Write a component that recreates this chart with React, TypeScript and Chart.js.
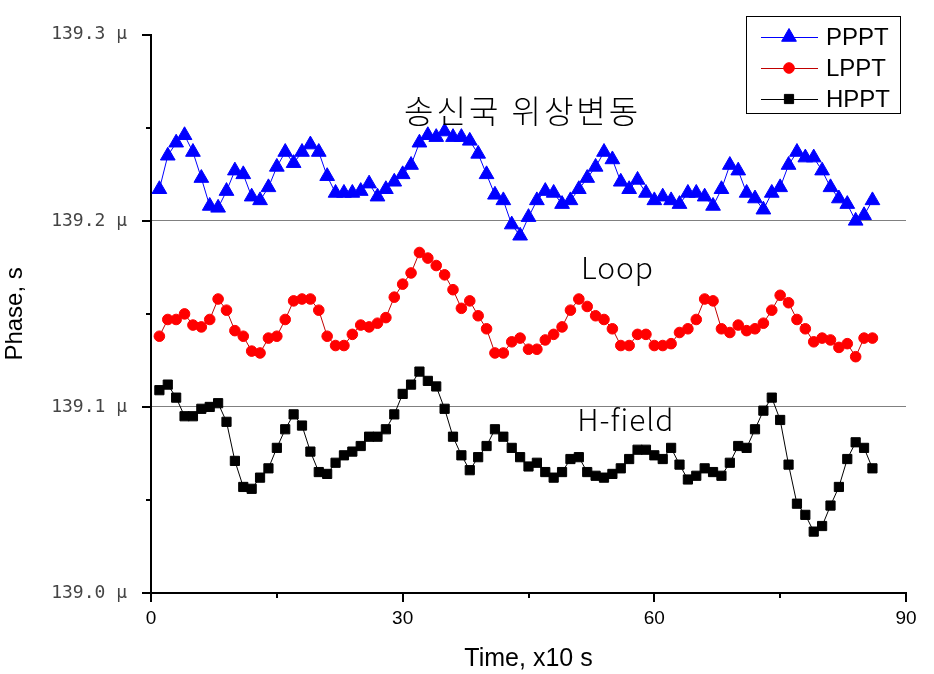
import React, { useEffect, useRef } from 'react';
import { Chart, registerables } from 'chart.js';
import { drawPoint } from 'chart.js/helpers';

Chart.register(...registerables);

const timeSteps = [
  1, 2, 3, 4, 5, 6, 7, 8, 9, 10, 11, 12, 13, 14, 15, 16, 17, 18, 19, 20,
  21, 22, 23, 24, 25, 26, 27, 28, 29, 30, 31, 32, 33, 34, 35, 36, 37, 38, 39, 40,
  41, 42, 43, 44, 45, 46, 47, 48, 49, 50, 51, 52, 53, 54, 55, 56, 57, 58, 59, 60,
  61, 62, 63, 64, 65, 66, 67, 68, 69, 70, 71, 72, 73, 74, 75, 76, 77, 78, 79, 80,
  81, 82, 83, 84, 85, 86,
];

const ppptValues = [
  139.217, 139.235, 139.242, 139.246, 139.237, 139.223, 139.208, 139.207, 139.216, 139.227,
  139.225, 139.213, 139.211, 139.218, 139.229, 139.237, 139.231, 139.237, 139.241, 139.237,
  139.224, 139.215, 139.215, 139.215, 139.216, 139.220, 139.213, 139.217, 139.221, 139.225,
  139.230, 139.242, 139.246, 139.245, 139.248, 139.245, 139.245, 139.243, 139.236, 139.225,
  139.214, 139.211, 139.198, 139.192, 139.202, 139.211, 139.216, 139.215, 139.209, 139.211,
  139.217, 139.223, 139.229, 139.237, 139.233, 139.221, 139.217, 139.222, 139.215, 139.211,
  139.213, 139.211, 139.209, 139.215, 139.215, 139.213, 139.208, 139.217, 139.230, 139.227,
  139.215, 139.212, 139.206, 139.215, 139.218, 139.230, 139.237, 139.234, 139.234, 139.227,
  139.218, 139.212, 139.209, 139.200, 139.203, 139.211,
];

const lpptValues = [
  139.138, 139.147, 139.147, 139.150, 139.144, 139.143, 139.147, 139.158, 139.152, 139.141,
  139.138, 139.130, 139.129, 139.137, 139.138, 139.147, 139.157, 139.158, 139.158, 139.152,
  139.138, 139.133, 139.133, 139.139, 139.144, 139.143, 139.145, 139.148, 139.159, 139.166,
  139.172, 139.183, 139.180, 139.176, 139.171, 139.163, 139.153, 139.157, 139.149, 139.142,
  139.129, 139.129, 139.135, 139.137, 139.131, 139.131, 139.136, 139.139, 139.143, 139.152,
  139.158, 139.154, 139.149, 139.147, 139.142, 139.133, 139.133, 139.139, 139.139, 139.133,
  139.133, 139.134, 139.140, 139.142, 139.147, 139.158, 139.157, 139.142, 139.140, 139.144,
  139.141, 139.142, 139.145, 139.152, 139.160, 139.156, 139.147, 139.142, 139.135, 139.137,
  139.136, 139.132, 139.134, 139.127, 139.137, 139.137,
];

const hpptValues = [
  139.109, 139.112, 139.105, 139.095, 139.095, 139.099, 139.100, 139.102, 139.092, 139.071,
  139.057, 139.056, 139.062, 139.067, 139.078, 139.088, 139.096, 139.090, 139.076, 139.065,
  139.064, 139.070, 139.074, 139.076, 139.079, 139.084, 139.084, 139.088, 139.096, 139.107,
  139.112, 139.119, 139.114, 139.111, 139.099, 139.084, 139.074, 139.066, 139.073, 139.079,
  139.088, 139.084, 139.078, 139.073, 139.068, 139.070, 139.065, 139.062, 139.065, 139.072,
  139.073, 139.065, 139.063, 139.062, 139.064, 139.067, 139.072, 139.077, 139.077, 139.074,
  139.072, 139.078, 139.069, 139.061, 139.063, 139.067, 139.065, 139.063, 139.070, 139.079,
  139.078, 139.088, 139.098, 139.105, 139.093, 139.069, 139.048, 139.042, 139.033, 139.036,
  139.047, 139.057, 139.072, 139.081, 139.078, 139.067,
];

const seriesNames = ['PPPT', 'LPPT', 'HPPT'];
const gridValues = [139.1, 139.2];

const annotationTexts = ['송신국 위상변동', 'Loop', 'H-field'];
const annotationX = [44.3, 55.6, 56.6];
const annotationY = [139.259, 139.175, 139.093];

const X_MIN = 0;
const X_MAX = 90;
const Y_MIN = 139.0;
const Y_MAX = 139.3;

const LATIN = "'Liberation Sans', Arial, sans-serif";

function toPoints(values: number[]) {
  return values.map((v, i) => ({ x: timeSteps[i], y: v }));
}

const isMajorY = (v: number) => Math.round(v * 20) % 2 === 0;

const overlayPlugin = {
  id: 'overlay',
  afterDraw(chart: any) {
    const ctx: any = chart.ctx;
    const xs = chart.scales.x;
    const ys = chart.scales.y;
    ctx.save();
    // tick marks
    ctx.strokeStyle = '#000';
    ctx.lineWidth = 2;
    ys.ticks.forEach((t: any) => {
      const py = Math.round(ys.getPixelForValue(t.value));
      const len = isMajorY(t.value) ? 9 : 5;
      ctx.beginPath();
      ctx.moveTo(xs.left - len, py);
      ctx.lineTo(xs.left, py);
      ctx.stroke();
    });
    xs.ticks.forEach((t: any) => {
      const px = Math.round(xs.getPixelForValue(t.value));
      const len = t.value % 30 === 0 ? 9 : 5;
      ctx.beginPath();
      ctx.moveTo(px, ys.bottom);
      ctx.lineTo(px, ys.bottom + len);
      ctx.stroke();
    });

    // annotations
    ctx.fillStyle = '#000';
    ctx.textAlign = 'center';
    ctx.textBaseline = 'middle';
    annotationTexts.forEach((txt, i) => {
      const korean = /[\uac00-\ud7a3]/.test(txt);
      ctx.font = korean
        ? "300 32px 'Noto Sans CJK KR', sans-serif"
        : "300 30px 'Noto Sans CJK KR', 'Noto Sans', sans-serif";
      ctx.letterSpacing = korean ? '3px' : '1px';
      ctx.fillText(txt, xs.getPixelForValue(annotationX[i]), ys.getPixelForValue(annotationY[i]));
    });
    ctx.letterSpacing = '0px';

    // legend
    const bx = 746.5, by = 16.5, bw = 154, bh = 97;
    ctx.fillStyle = '#fff';
    ctx.fillRect(bx, by, bw, bh);
    ctx.strokeStyle = '#000';
    ctx.lineWidth = 1;
    ctx.strokeRect(bx, by, bw, bh);
    const rowY = [37, 68, 99];
    chart.data.datasets.forEach((ds: any, i: number) => {
      const y = rowY[i];
      ctx.strokeStyle = ds.borderColor;
      ctx.lineWidth = 1;
      ctx.beginPath();
      ctx.moveTo(761, y + 0.5);
      ctx.lineTo(818, y + 0.5);
      ctx.stroke();
      ctx.fillStyle = ds.pointBackgroundColor;
      ctx.strokeStyle = ds.pointBorderColor;
      ctx.lineWidth = 1;
      drawPoint(ctx, { pointStyle: ds.pointStyle, rotation: 0, radius: ds.pointRadius, borderWidth: 1 }, 789, y);
      ctx.fillStyle = '#000';
      ctx.font = `24px ${LATIN}`;
      ctx.textAlign = 'left';
      ctx.textBaseline = 'middle';
      ctx.fillText(ds.label, 826, y + 1);
    });
    ctx.restore();
  },
};

export default function App() {
  const canvasRef = useRef<HTMLCanvasElement | null>(null);

  useEffect(() => {
    if (!canvasRef.current) return;
    const chart = new Chart(canvasRef.current, {
      type: 'line',
      data: {
        datasets: [
          {
            label: seriesNames[0],
            data: toPoints(ppptValues),
            borderColor: '#0000ff',
            borderWidth: 1,
            pointStyle: 'triangle',
            pointRadius: 8.5,
            pointBackgroundColor: '#0000ff',
            pointBorderColor: '#0000ff',
            pointBorderWidth: 1,
          },
          {
            label: seriesNames[1],
            data: toPoints(lpptValues),
            borderColor: '#c00000',
            borderWidth: 1,
            pointStyle: 'circle',
            pointRadius: 5.3,
            pointBackgroundColor: '#ff0000',
            pointBorderColor: '#ff0000',
            pointBorderWidth: 1,
          },
          {
            label: seriesNames[2],
            data: toPoints(hpptValues),
            borderColor: '#000000',
            borderWidth: 1,
            pointStyle: 'rect',
            pointRadius: 6.5,
            pointBackgroundColor: '#000000',
            pointBorderColor: '#000000',
            pointBorderWidth: 1,
          },
        ],
      },
      options: {
        responsive: false,
        animation: false,
        events: [],
        layout: { padding: { top: 34, right: 28, left: 0, bottom: 0 } },
        plugins: {
          legend: { display: false },
          tooltip: { enabled: false },
        },
        elements: { line: { tension: 0 } },
        scales: {
          x: {
            type: 'linear',
            min: X_MIN,
            max: X_MAX,
            afterFit: (s: any) => { s.height = 81; },
            border: { display: true, color: '#000', width: 2 },
            grid: { drawOnChartArea: false, drawTicks: false },
            ticks: {
              stepSize: 15,
              autoSkip: false,
              maxRotation: 0,
              padding: 14,
              color: '#000',
              font: { family: LATIN, size: 19 },
              callback: (v: any) => (Number(v) % 30 === 0 ? String(v) : ''),
            },
            title: {
              display: true,
              text: 'Time, x10 s',
              color: '#000',
              font: { family: LATIN, size: 25 },
              padding: { top: 0, bottom: 0 },
            },
          },
          y: {
            type: 'linear',
            min: Y_MIN,
            max: Y_MAX,
            afterFit: (s: any) => { s.width = 151; },
            border: { display: true, color: '#000', width: 2 },
            grid: {
              drawTicks: false,
              lineWidth: 1,
              color: (c: any) =>
                gridValues.some((g) => Math.abs(g - c.tick.value) < 1e-6) ? '#808080' : 'rgba(0,0,0,0)',
            },
            ticks: {
              stepSize: 0.05,
              autoSkip: false,
              padding: 24,
              color: '#444',
              font: { family: "'DejaVu Sans Mono', monospace", size: 18 },
              callback: (v: any) => {
                const n = Number(v);
                return isMajorY(n) ? `${n.toFixed(1)} μ` : '';
              },
            },
            title: {
              display: true,
              text: 'Phase, s',
              color: '#000',
              font: { family: LATIN, size: 24 },
              padding: { top: 1, bottom: 0 },
            },
          },
        },
      },
      plugins: [overlayPlugin],
    });
    return () => chart.destroy();
  }, []);

  return (
    <canvas
      ref={canvasRef}
      width={934}
      height={674}
      style={{ position: 'absolute', left: 0, top: 0, width: 934, height: 674, display: 'block', background: '#fff' }}
    />
  );
}
